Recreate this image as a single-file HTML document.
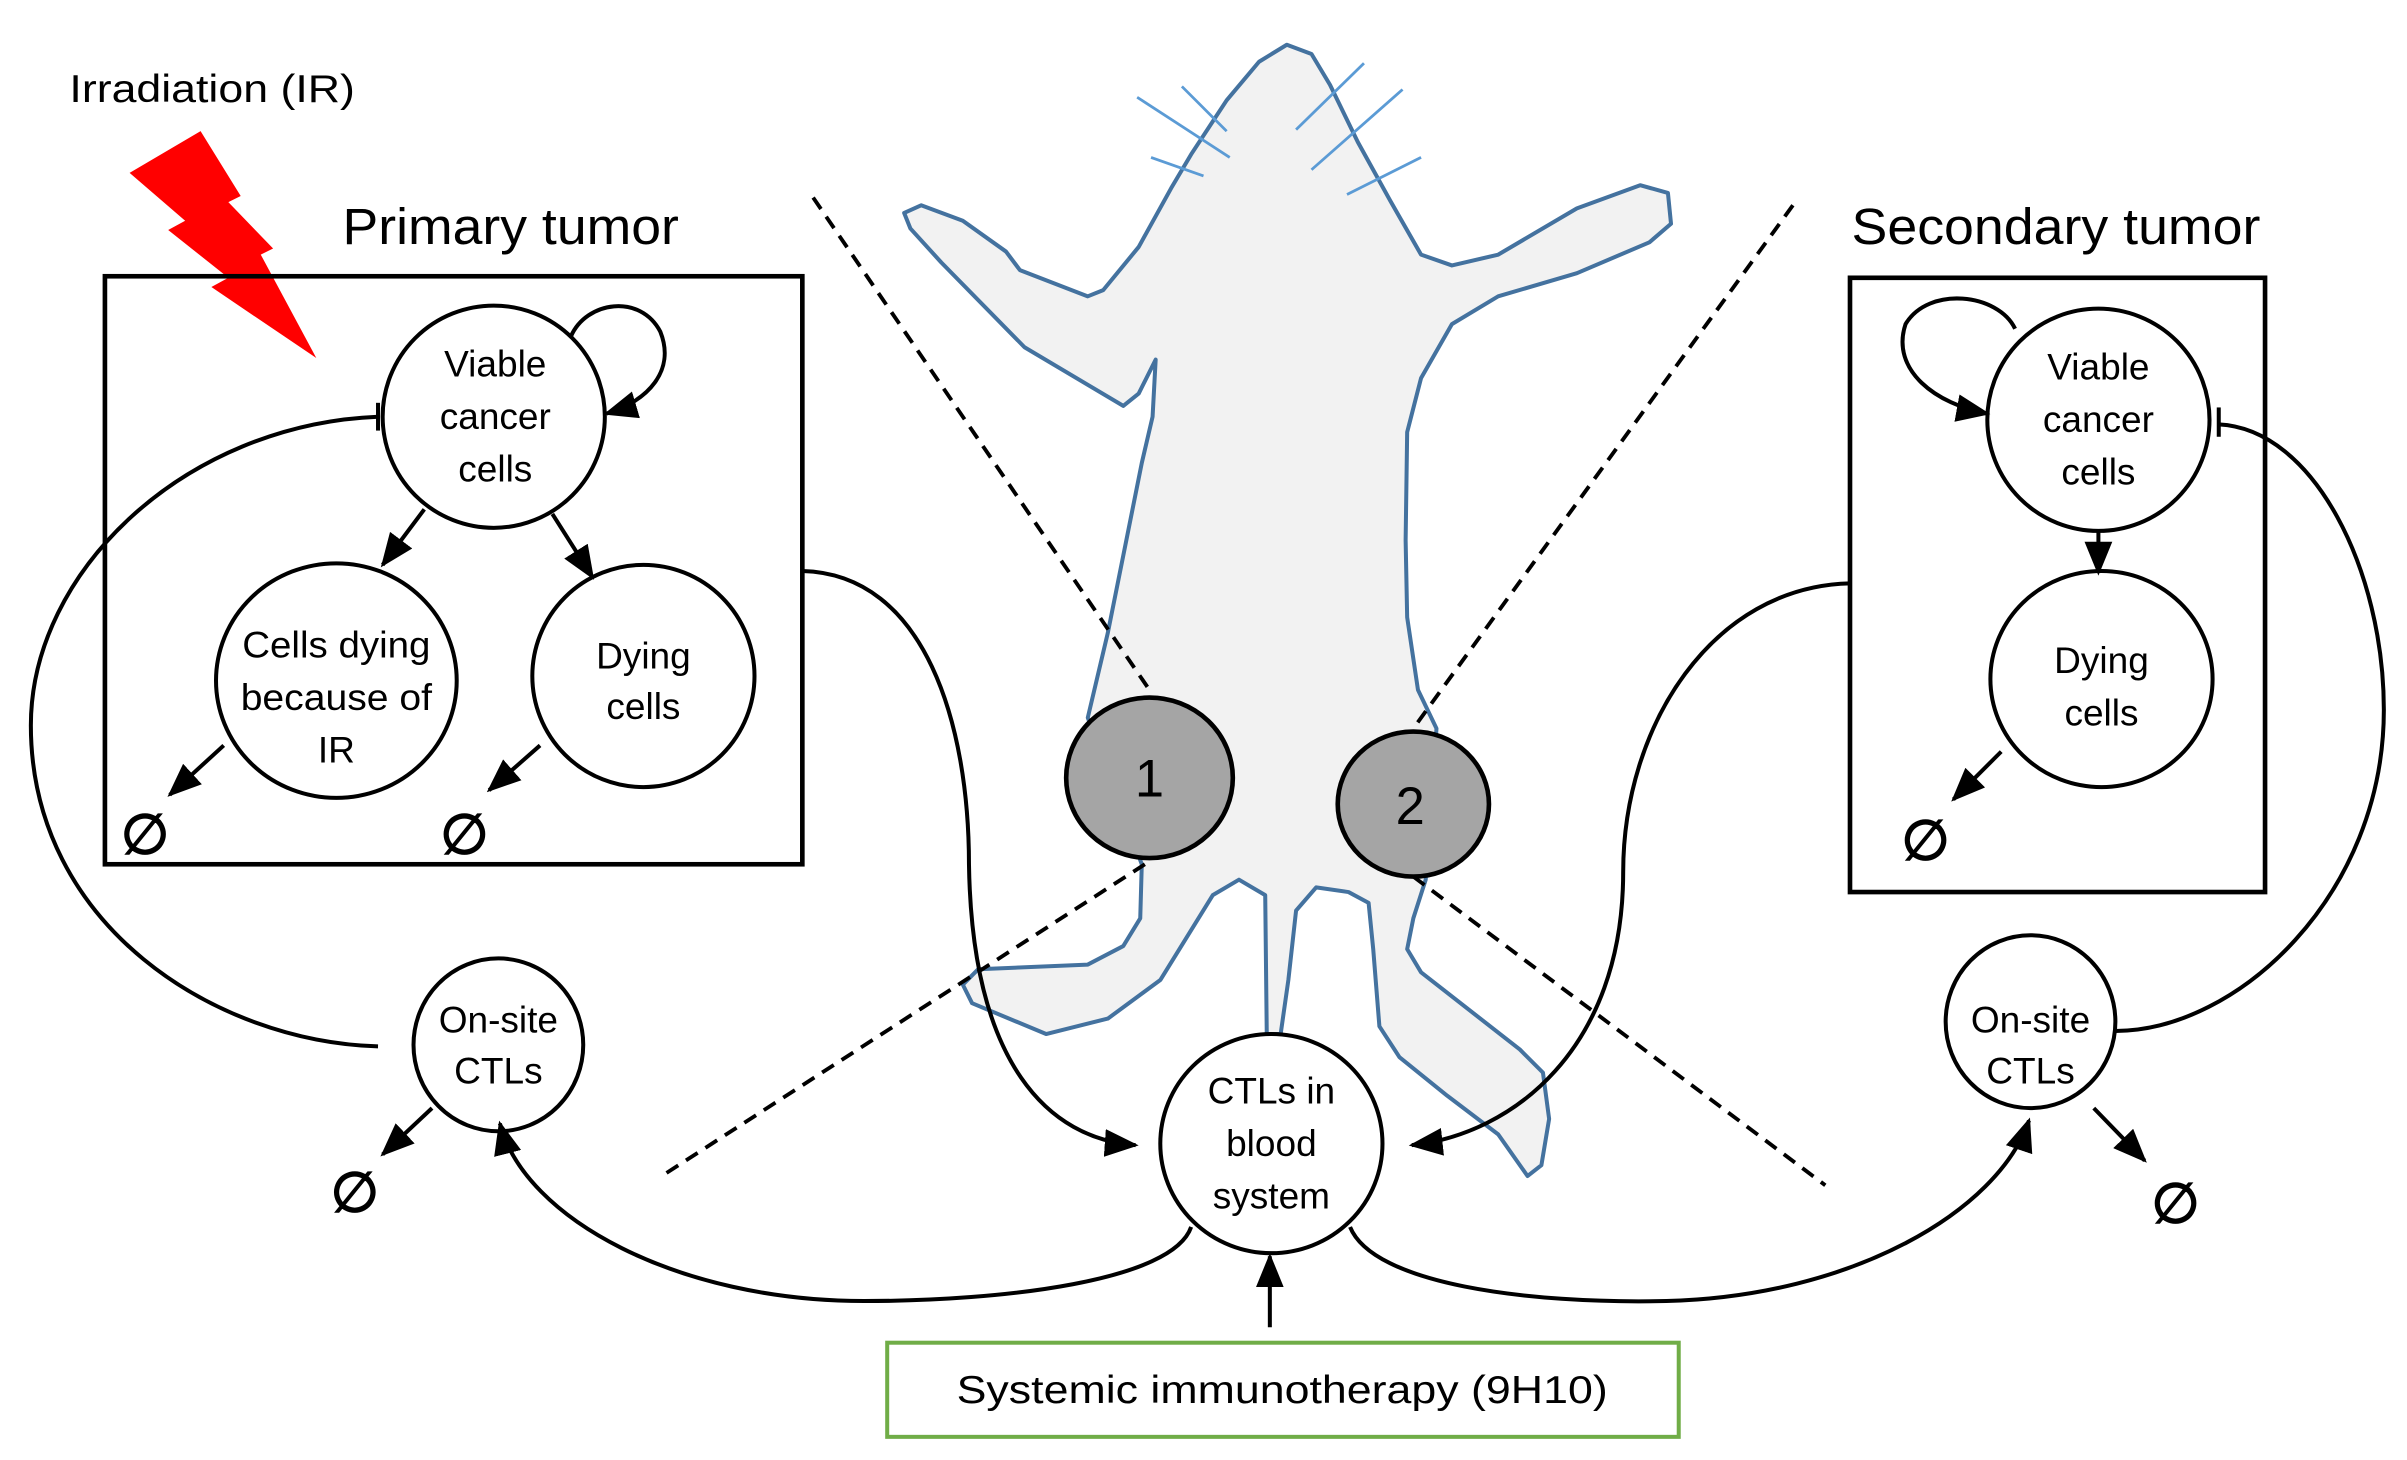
<!DOCTYPE html>
<html><head><meta charset="utf-8"><style>
html,body{margin:0;padding:0;background:#fff;}
svg{display:block;}
text{font-family:"Liberation Sans",sans-serif;fill:#000;}
</style></head><body>
<svg width="2407" height="1460" viewBox="0 0 1560 946" preserveAspectRatio="none" xmlns="http://www.w3.org/2000/svg">
<defs>
<marker id="ah" markerUnits="userSpaceOnUse" markerWidth="22" markerHeight="18" refX="20" refY="9" orient="auto">
<path d="M0,0 L22,9 L0,18 Z" fill="#000"/>
</marker>
</defs>
<rect width="1560" height="946" fill="#fff"/>

<!-- mouse -->
<path d="M834,29 L816,40 L795,65 L772,100 L759,122 L738,160 L715,188 L705,192 L661,175 L652,163 L624,143 L597,133 L586,138 L590,148 L610,170 L664,225 L728,263 L738,255 L749,233 L747,270 L740,300 L718,410 L705,465 L740,560 L739,595 L728,613 L705,625 L634,628 L624,638 L630,650 L678,670 L718,660 L752,635 L786,580 L803,570 L820,580 L821,670 L830,670 L835,635 L840,590 L853,575 L874,578 L887,585 L890,615 L894,665 L907,685 L938,710 L971,735 L990,762 L999,755 L1004,725 L1000,695 L985,680 L921,630 L912,615 L916,595 L924,570 L931,472 L919,447 L912,400 L911,350 L912,280 L921,245 L941,210 L971,192 L1022,177 L1069,157 L1083,145 L1081,125 L1063,120 L1022,135 L971,165 L941,172 L921,165 L901,130 L880,92 L862,55 L850,35 Z" fill="#f2f2f2" stroke="#44729f" stroke-width="2.6" stroke-linejoin="round"/>
<g stroke="#5b9bd5" stroke-width="1.8">
<line x1="737" y1="63" x2="797" y2="102"/><line x1="766" y1="56" x2="795" y2="85"/><line x1="746" y1="102" x2="780" y2="114"/>
<line x1="840" y1="84" x2="884" y2="41"/><line x1="850" y1="110" x2="909" y2="58"/><line x1="873" y1="126" x2="921" y2="102"/>
</g>

<!-- dashed lines -->
<g stroke="#000" stroke-width="2.5" stroke-dasharray="9,6" fill="none">
<line x1="527" y1="128" x2="747" y2="450"/>
<line x1="432" y1="760" x2="742" y2="560"/>
<line x1="1162" y1="133" x2="916" y2="472"/>
<line x1="916" y1="568" x2="1183" y2="768"/>
</g>

<!-- tumors -->
<ellipse cx="745" cy="504" rx="54" ry="52" fill="#a5a5a5" stroke="#000" stroke-width="3"/>
<text x="745" y="516" font-size="34" text-anchor="middle">1</text>
<ellipse cx="916" cy="521" rx="49" ry="47" fill="#a5a5a5" stroke="#000" stroke-width="3"/>
<text x="914" y="534" font-size="34" text-anchor="middle">2</text>

<!-- lightning -->
<polygon points="84,112 130,85 156,127 148,131 177,161 169,165 205,232 137,186 148,180 109,149 120,143" fill="#ff0000"/>
<text x="45" y="66" font-size="25" textLength="185" lengthAdjust="spacingAndGlyphs">Irradiation (IR)</text>

<!-- primary tumor -->
<text x="222" y="158" font-size="33" textLength="218" lengthAdjust="spacingAndGlyphs">Primary tumor</text>
<rect x="68" y="179" width="452" height="381" fill="none" stroke="#000" stroke-width="3"/>
<g fill="#fff" stroke="#000" stroke-width="2.6">
<ellipse cx="320" cy="270" rx="72" ry="72"/>
<ellipse cx="218" cy="441" rx="78" ry="76"/>
<ellipse cx="417" cy="438" rx="72" ry="72"/>
<ellipse cx="323" cy="677" rx="55" ry="56"/>
<ellipse cx="824" cy="741" rx="72" ry="71"/>
<ellipse cx="1360" cy="272" rx="72" ry="72"/>
<ellipse cx="1362" cy="440" rx="72" ry="70"/>
<ellipse cx="1316" cy="662" rx="55" ry="56"/>
</g>
<g font-size="24" text-anchor="middle">
<text x="321" y="244">Viable</text><text x="321" y="278">cancer</text><text x="321" y="312">cells</text>
<text x="218" y="426" textLength="122" lengthAdjust="spacingAndGlyphs">Cells dying</text><text x="218" y="460" textLength="124" lengthAdjust="spacingAndGlyphs">because of</text><text x="218" y="494">IR</text>
<text x="417" y="433">Dying</text><text x="417" y="466">cells</text>
<text x="323" y="669">On-site</text><text x="323" y="702">CTLs</text>
<text x="824" y="715">CTLs in</text><text x="824" y="749">blood</text><text x="824" y="783">system</text>
<text x="1360" y="246">Viable</text><text x="1360" y="280">cancer</text><text x="1360" y="314">cells</text>
<text x="1362" y="436">Dying</text><text x="1362" y="470">cells</text>
<text x="1316" y="669">On-site</text><text x="1316" y="702">CTLs</text>
</g>
<text x="1200" y="158" font-size="33" textLength="265" lengthAdjust="spacingAndGlyphs">Secondary tumor</text>
<rect x="1199" y="180" width="269" height="398" fill="none" stroke="#000" stroke-width="3"/>

<g stroke="#000" stroke-width="2.6" fill="none" marker-end="url(#ah)">
<path d="M370,218 C380,195 415,190 428,215 C438,240 420,260 393,268"/>
<path d="M1306,213 C1295,190 1250,185 1235,210 C1225,240 1255,262 1288,268"/>
<line x1="275" y1="330" x2="248" y2="366"/>
<line x1="358" y1="333" x2="384" y2="374"/>
<line x1="145" y1="483" x2="110" y2="515"/>
<line x1="350" y1="483" x2="317" y2="512"/>
<line x1="1360" y1="344" x2="1360" y2="371"/>
<line x1="1297" y1="487" x2="1266" y2="518"/>
<line x1="280" y1="718" x2="248" y2="748"/>
<line x1="1357" y1="718" x2="1390" y2="752"/>
<line x1="823" y1="860" x2="823" y2="814"/>
<path d="M520,370 C600,372 628,470 628,560 C630,690 680,738 736,742"/>
<path d="M1199,378 C1110,380 1052,470 1052,565 C1052,680 980,735 915,742"/>
<path d="M772,795 C760,830 650,843 560,843 C440,843 340,790 324,728"/>
<path d="M875,795 C890,832 990,845 1080,843 C1200,840 1295,785 1315,726"/>
</g>
<g stroke="#000" stroke-width="2.6" fill="none">
<path d="M245,270 C120,275 20,370 20,470 C20,600 140,675 245,678"/>
<line x1="245" y1="261" x2="245" y2="279"/>
<path d="M1438,275 C1500,278 1545,370 1545,460 C1545,580 1450,668 1371,668"/>
<line x1="1438" y1="264" x2="1438" y2="283"/>
</g>

<g font-size="36" font-weight="bold" text-anchor="middle">
<text x="94" y="553">∅</text><text x="301" y="553">∅</text>
<text x="1248" y="557">∅</text><text x="230" y="785">∅</text><text x="1410" y="792">∅</text>
</g>

<rect x="575" y="870" width="513" height="61" fill="#fff" stroke="#70ad47" stroke-width="2.6"/>
<text x="620" y="909" font-size="25" textLength="422" lengthAdjust="spacingAndGlyphs">Systemic immunotherapy (9H10)</text>
</svg>
</body></html>
